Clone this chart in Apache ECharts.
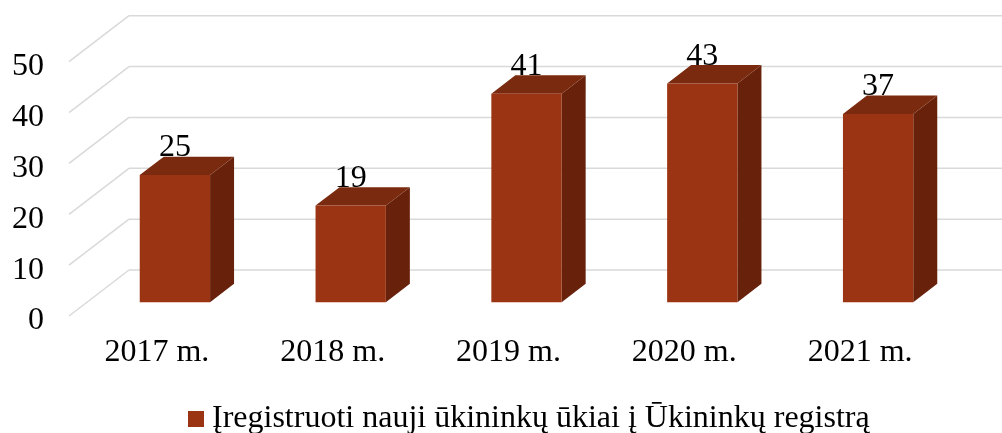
<!DOCTYPE html>
<html>
<head>
<meta charset="utf-8">
<script src="https://cdn.jsdelivr.net/npm/echarts@6/dist/echarts.min.js"></script>
<style>
  html, body { margin: 0; padding: 0; background: #fff; }
  #chart { width: 1002px; height: 433px; }
</style>
</head>
<body>
<div id="chart"></div>
<script>
const categories = ['2017 m.', '2018 m.', '2019 m.', '2020 m.', '2021 m.'];
const values = [25, 19, 41, 43, 37];
const yTicks = [0, 10, 20, 30, 40, 50];
const seriesName = 'Įregistruoti nauji ūkininkų ūkiai į Ūkininkų registrą';

// 3d depth of the floor (front plane -> back wall)
const DX = 60, DY = 46;
const FONT = '"Liberation Serif", "Times New Roman", serif';

let chart = echarts.init(document.getElementById('chart'));

function renderWall(params, api) {
    let cs = params.coordSys;
    let p = api.coord([0, api.value(1)]);
    let style = { stroke: '#d9d9d9', lineWidth: 1.5 };
    return {
        type: 'group',
        children: [
            { type: 'line', shape: { x1: cs.x, y1: p[1], x2: cs.x + DX, y2: p[1] - DY }, style: style },
            { type: 'line', shape: { x1: cs.x + DX, y1: p[1] - DY, x2: cs.x + cs.width + DX, y2: p[1] - DY }, style: style },
        ],
    };
}

function renderBar(params, api) {
    let idx = api.value(0);
    let base = api.coord([idx, 0]);
    let top = api.coord([idx, api.value(1)]);
    let w = api.size([1, 0])[0] * 0.4;
    let cx = base[0] + 0.3 * DX;
    let y0 = base[1] - 0.3 * DY;
    let y1 = top[1] - 0.3 * DY;
    let dx = 0.4 * DX, dy = 0.4 * DY;
    let L = cx - w / 2, R = cx + w / 2;
    return {
        type: 'group',
        children: [
            { type: 'polygon', shape: { points: [[R, y1], [R + dx, y1 - dy], [R + dx, y0 - dy], [R, y0]] }, style: { fill: '#68220c' } },
            { type: 'polygon', shape: { points: [[L, y1], [R, y1], [R + dx, y1 - dy], [L + dx, y1 - dy]] }, style: { fill: '#7a2a0e' } },
            { type: 'rect', shape: { x: L, y: y1, width: w, height: y0 - y1 }, style: { fill: '#9b3412' } },
            {
                type: 'text', z2: 10,
                style: {
                    x: cx, y: y1 - dy + 7, text: String(api.value(1)),
                    align: 'center', verticalAlign: 'bottom',
                    font: '32px ' + FONT, fill: '#000',
                },
            },
        ],
    };
}

let option = {
    animation: false,
    grid: { left: 69, right: 54, top: 61.7, bottom: 117, containLabel: false },
    legend: {
        data: [seriesName],
        left: 183,
        top: 398,
        icon: 'rect',
        itemWidth: 16,
        itemHeight: 16,
        itemGap: 10,
        textStyle: { fontFamily: FONT, fontSize: 32, color: '#000', padding: [0, 0, 0, 3] },
    },
    xAxis: {
        type: 'category',
        data: categories,
        axisLine: { show: false },
        axisTick: { show: false },
        axisLabel: { fontFamily: FONT, fontSize: 32, color: '#000', margin: 21 },
    },
    yAxis: {
        type: 'value',
        min: 0,
        max: 50,
        interval: 10,
        splitLine: { show: false },
        axisLine: { show: false },
        axisTick: { show: false },
        axisLabel: {
            fontFamily: FONT, fontSize: 32, color: '#000', margin: 25,
            formatter: '{v|{value}}',
            rich: { v: { fontFamily: FONT, fontSize: 32, color: '#000', padding: [10, 0, 0, 0] } },
        },
    },
    series: [
        {
            name: 'wall',
            type: 'custom',
            silent: true,
            z: 1,
            renderItem: renderWall,
            encode: { x: 0, y: 1 },
            data: yTicks.map(v => [0, v]),
        },
        {
            name: seriesName,
            type: 'custom',
            z: 2,
            itemStyle: { color: '#9b3412' },
            renderItem: renderBar,
            encode: { x: 0, y: 1 },
            data: values.map((v, i) => [i, v]),
        },
    ],
};
chart.setOption(option);
</script>
</body>
</html>
